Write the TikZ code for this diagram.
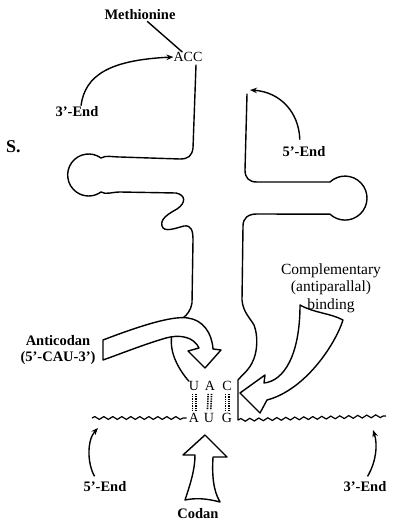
\documentclass[tikz,border=0pt]{standalone}
\usepackage{fontspec}
\setmainfont{Liberation Serif}
\usetikzlibrary{arrows.meta,decorations.pathmorphing}
\tikzset{
  lbl/.style={font=\bfseries\fontsize{14.5}{16}\selectfont, inner sep=1pt},
  note/.style={font=\fontsize{15.5}{17.5}\selectfont, align=center, inner sep=0pt},
  base/.style={font=\fontsize{14}{15}\selectfont, inner sep=0pt},
  strand/.style={line width=1.4pt, line cap=round, line join=round},
  blockarrow/.style={draw, fill=white, line width=1.4pt, line join=round},
  pairing/.style={line width=1.6pt, dash pattern=on 1.3pt off 1pt, shorten <=3pt, shorten >=3pt},
  wave/.style={line width=1.2pt, decorate, decoration={snake, amplitude=1.4pt, segment length=9pt}},
  endarrow/.style={line width=1.4pt, -{Stealth[length=7pt,width=5.5pt]}}
}
\begin{document}
\begin{tikzpicture}[x=1pt,y=-1pt]
\useasboundingbox (0,0) rectangle (392,524);
\node[lbl] (met) at (140,15) {Methionine};
\node[base] (acc) at (188,57) {ACC};
\node[lbl] (end3top) at (77,112) {3'-End};
\node[lbl] (end5top) at (304,152) {5'-End};
\node[font=\bfseries\fontsize{18}{20}\selectfont, anchor=west, inner sep=0pt] (cut) at (6,147) {S.};
\node[note] (compl) at (331,288) {Complementary\\(antiparallal)\\binding};
\node[lbl, align=center] (anti) at (58,350) {Anticodan\\(5'-CAU-3')};
\node[base] (u1) at (194,386) {U};
\node[base] (a1) at (210,386) {A};
\node[base] (c1) at (227,386) {C};
\node[base] (a2) at (194,418) {A};
\node[base] (u2) at (209,418) {U};
\node[base] (g2) at (227,418) {G};
\node[lbl] (end5bot) at (105,487) {5'-End};
\node[lbl] (end3bot) at (365,487) {3'-End};
\node[lbl] (codan) at (198,514) {Codan};
\coordinate (tip5) at (250,90);
\coordinate (tipL) at (98,428);
\coordinate (tipR) at (373,430);
\coordinate (m5) at (92,418);
\coordinate (m3) at (386,416);
\draw[line width=1.4pt] (met) -- (acc);
\draw[endarrow] ([xshift=4pt]end3top.north) .. controls (85,75) and (110,60) .. (acc.west);
\draw[endarrow, shorten <=6pt] ([xshift=-4pt]end5top.north) .. controls (299,112) and (280,92) .. (tip5);
\draw[strand] (196,65) -- (193,148) .. controls (192,156) and (188,159) .. (180,159) -- (120,157) .. controls (112,157) and (106,155) .. (101,158) arc[start angle=-54, end angle=-306, radius=21] .. controls (106,195) and (112,192) .. (120,192) -- (176,193) .. controls (186,195) and (186,203) .. (177,209) .. controls (168,214) and (160,219) .. (162,226) .. controls (164,233) and (176,228) .. (184,226) .. controls (191,225) and (193,230) .. (193,240) -- (192,303) .. controls (191,310) and (187,315) .. (183,318);
\draw[strand] (247,94) -- (245,170) .. controls (245,178) and (249,182) .. (257,182) -- (330,182) arc[start angle=-133, end angle=133, radius=22] -- (257,214) .. controls (248,214) and (243,218) .. (243,226) -- (242,300) .. controls (243,312) and (250,318) .. (254,325) .. controls (258,335) and (258,352) .. (252,363) .. controls (248,371) and (241,376) .. (238,380) -- (238,420) coordinate (brk);
\draw[strand] (172,334) .. controls (169,350) and (176,366) .. (u1.north west);
\draw[blockarrow] (103,340) .. controls (150,322) and (175,316) .. (188,318) .. controls (203,320) and (212,333) .. (213,349) -- (221,350) -- (205,368) -- (188,351) -- (199,348) .. controls (194,337) and (180,334) .. (166,338) .. controls (145,344) and (120,354) .. (103,360) -- cycle;
\draw[blockarrow] (300,305) .. controls (314,313) and (330,313) .. (343,320) .. controls (335,345) and (305,390) .. (267,400) -- (260,413) -- (240,393) -- (265,375) -- (264,383) .. controls (284,381) and (300,355) .. (300,305) -- cycle;
\draw[blockarrow] (185,500) .. controls (190,485) and (195,470) .. (195,455) -- (183,455) -- (205,435) -- (227,457) -- (213,457) .. controls (212,475) and (213,490) .. (220,502) .. controls (205,498) and (195,498) .. (185,500) -- cycle;
\foreach \t/\b in {u1/a2, a1/u2, c1/g2} {
  \draw[pairing] ([xshift=-1.7pt]\t.south) -- ([xshift=-1.7pt]\b.north);
  \draw[pairing] ([xshift=1.7pt]\t.south) -- ([xshift=1.7pt]\b.north);
}
\draw[wave] (m5) -- ([xshift=-2pt]a2.west);
\draw[wave] (brk) -- (m3);
\draw[endarrow, shorten <=5pt] ([xshift=-8pt]end5bot.north) .. controls (87,463) and (87,440) .. (tipL);
\draw[endarrow, shorten <=5pt] (end3bot.north) .. controls (376,462) and (378,445) .. (tipR);
\end{tikzpicture}
\end{document}
